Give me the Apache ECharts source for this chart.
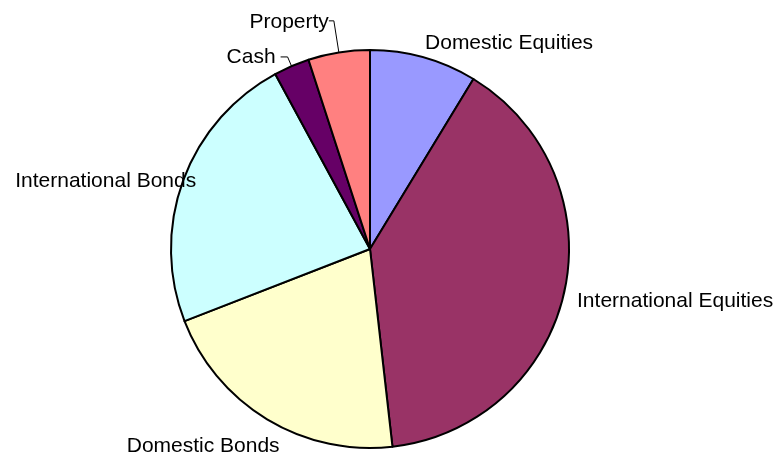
<!DOCTYPE html>
<html><head><meta charset="utf-8">
<script src="https://cdn.jsdelivr.net/npm/echarts@6/dist/echarts.min.js"></script>
<style>html,body{margin:0;padding:0;background:#fff}#c{width:777px;height:458px}</style>
</head><body><div id="c"></div>
<script>
const categories = ['Domestic Equities','International Equities','Domestic Bonds','International Bonds','Cash','Property'];
const values = [8.7, 39.5, 20.9, 23.0, 2.9, 5.0];
const colors = ['#9999FF','#993366','#FFFFCC','#CCFFFF','#660066','#FF8080'];
// label tuning (style only)
const lineLen = [16, 13, 28, 0, 10, 32];
const lineLen2 = [0, 0, 0, 0, 7, 5];
const showLine = [false, false, false, false, true, true];
const labelShift = [[-8,1],[-5,7],[32,3],[18,1],[0,0],[5,1]];

const chart = echarts.init(document.getElementById('c'));
chart.setOption({
  animation: false,
  series: [{
    type: 'pie',
    center: [370, 249],
    radius: 199,
    startAngle: 90,
    clockwise: true,
    avoidLabelOverlap: false,
    itemStyle: { borderColor: '#000', borderWidth: 2 },
    label: { show: true, position: 'outside', color: '#000', fontSize: 21, fontFamily: 'Liberation Sans, Arial, sans-serif' },
    labelLine: { lineStyle: { color: '#000', width: 1 } },
    labelLayout: function (p) { const s = labelShift[p.dataIndex]; return { dx: s[0], dy: s[1] }; },
    emphasis: { disabled: true },
    data: categories.map((n, i) => ({
      name: n, value: values[i],
      itemStyle: { color: colors[i] },
      labelLine: { show: showLine[i], length: lineLen[i], length2: lineLen2[i] }
    }))
  }]
});
</script></body></html>
